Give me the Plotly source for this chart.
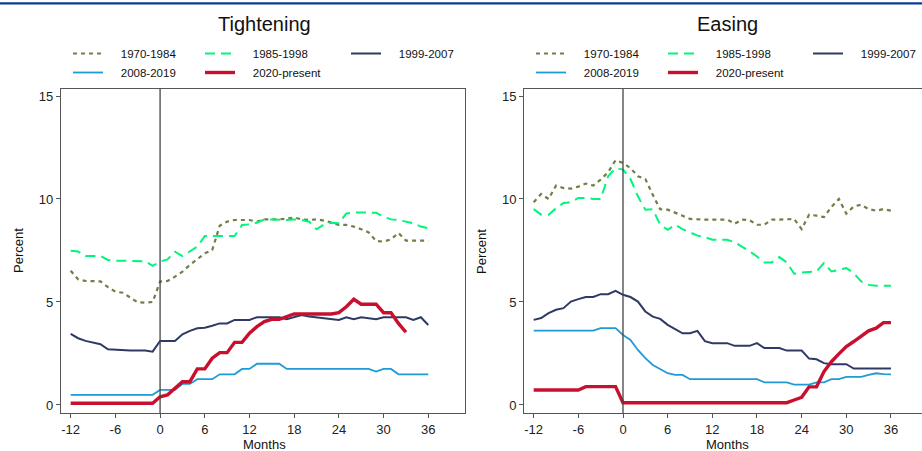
import plotly.graph_objects as go

months = list(range(-12, 37))
series_names = ["1970-1984", "1985-1998", "1999-2007", "2008-2019", "2020-present"]

# ---------------- Tightening ----------------
tight_1970 = [6.52, 6.10, 6.02, 6.00, 6.00, 5.72, 5.50, 5.45, 5.23, 4.98, 4.97, 5.00,
              5.99, 6.02, 6.23, 6.47, 6.80, 7.09, 7.36, 7.52, 8.70, 8.90, 8.98, 8.98,
              8.98, 8.90, 9.01, 9.01, 9.01, 9.05, 9.10, 9.01, 8.98, 9.01, 8.95, 8.85,
              8.74, 8.74, 8.66, 8.53, 8.38, 7.96, 7.93, 8.04, 8.35, 7.98, 7.98, 7.98, 7.98]
tight_1985 = [7.49, 7.45, 7.23, 7.23, 7.23, 7.04, 7.00, 7.00, 7.00, 7.00, 6.98, 6.75,
              6.96, 7.07, 7.44, 7.23, 7.44, 7.69, 8.20, 8.20, 8.20, 8.20, 8.20, 8.74,
              8.77, 8.85, 9.01, 9.01, 8.98, 8.98, 9.01, 8.98, 8.90, 8.53, 8.77, 8.85,
              8.82, 9.30, 9.35, 9.35, 9.35, 9.33, 9.14, 9.01, 8.98, 8.90, 8.82, 8.66, 8.58]
tight_1999 = [3.45, 3.24, 3.11, 3.04, 2.95, 2.70, 2.68, 2.64, 2.64, 2.64, 2.64, 2.59,
              3.11, 3.11, 3.11, 3.43, 3.60, 3.72, 3.75, 3.85, 3.96, 3.96, 4.13, 4.13,
              4.13, 4.26, 4.26, 4.26, 4.26, 4.16, 4.28, 4.37, 4.30, 4.26, 4.22, 4.18,
              4.13, 4.26, 4.16, 4.26, 4.20, 4.16, 4.26, 4.26, 4.26, 4.26, 4.13, 4.26, 3.88]
tight_2008 = [0.49] * 12 + [
              0.73, 0.73, 0.73, 1.02, 1.02, 1.25, 1.25, 1.25, 1.49, 1.49, 1.49, 1.75,
              1.75, 2.00, 2.00, 2.00, 2.00, 1.75, 1.75, 1.75, 1.75, 1.75, 1.75, 1.75,
              1.75, 1.75, 1.75, 1.75, 1.75, 1.62, 1.75, 1.75, 1.49, 1.49, 1.49, 1.49, 1.49]
tight_2020 = [0.08] * 12 + [
              0.40, 0.49, 0.81, 1.13, 1.13, 1.75, 1.75, 2.27, 2.54, 2.54, 3.04, 3.04,
              3.48, 3.80, 4.05, 4.16, 4.16, 4.29, 4.42, 4.42, 4.42, 4.42, 4.42, 4.42,
              4.48, 4.77, 5.13, 4.89, 4.89, 4.89, 4.48, 4.48, 3.96, 3.53]

# ---------------- Easing ----------------
ease_1970 = [9.84, 10.24, 10.00, 10.65, 10.53, 10.50, 10.60, 10.75, 10.65, 10.94, 11.30, 11.88,
             11.75, 11.50, 11.10, 10.97, 10.20, 9.50, 9.48, 9.35, 9.19, 9.03, 9.00, 9.00,
             9.00, 9.00, 9.00, 8.80, 9.00, 8.97, 8.75, 8.75, 9.00, 9.00, 9.00, 9.03,
             8.54, 9.24, 9.19, 9.12, 9.61, 10.00, 9.29, 9.64, 9.72, 9.51, 9.43, 9.51, 9.43]
ease_1985 = [9.51, 9.24, 9.24, 9.55, 9.81, 9.84, 10.05, 10.05, 10.00, 10.00, 11.10, 11.50,
             11.43, 10.97, 10.13, 9.48, 9.50, 8.75, 8.50, 8.75, 8.54, 8.38, 8.22, 8.15,
             8.02, 8.02, 8.02, 7.90, 7.70, 7.46, 7.21, 6.92, 6.92, 7.18, 6.92, 6.37,
             6.43, 6.45, 6.48, 6.89, 6.48, 6.56, 6.65, 6.40, 6.00, 5.83, 5.79, 5.79, 5.79]
ease_1999 = [4.13, 4.22, 4.46, 4.62, 4.70, 5.02, 5.14, 5.24, 5.24, 5.38, 5.38, 5.54,
             5.35, 5.24, 5.02, 4.54, 4.29, 4.18, 3.89, 3.68, 3.48, 3.48, 3.60, 3.10,
             3.00, 3.00, 3.00, 2.87, 2.87, 2.87, 3.00, 2.76, 2.76, 2.76, 2.64, 2.64,
             2.64, 2.25, 2.22, 2.03, 1.98, 1.98, 1.98, 1.77, 1.77, 1.77, 1.77, 1.77, 1.77]
ease_2008 = [3.61] * 9 + [3.73, 3.73, 3.73,
             3.40, 3.16, 2.67, 2.27, 1.94, 1.73, 1.54, 1.46, 1.46, 1.25, 1.25, 1.25,
             1.25, 1.25, 1.25, 1.25, 1.25, 1.25, 1.25, 1.10, 1.10, 1.10, 1.10, 0.99,
             0.99, 0.99, 1.10, 1.10, 1.25, 1.25, 1.36, 1.36, 1.36, 1.46, 1.54, 1.50, 1.49]
ease_2020 = [0.73] * 7 + [0.89] * 5 + [0.11] * 23 + [
             0.24, 0.37, 0.88, 0.88, 1.62, 2.10, 2.48, 2.84, 3.08, 3.35, 3.60, 3.73, 4.00, 4.00]

panel_titles = ["Tightening", "Easing"]
x_ticks = [-12, -6, 0, 6, 12, 18, 24, 30, 36]
x_ticktext = ["-12", "-6", "0", "6", "12", "18", "24", "30", "36"]
y_ticks = [0, 5, 10, 15]

W, H = 922, 451
FONT = "Arial, Liberation Sans, sans-serif"

colors = ["#6e8048", "#00f57a", "#2e3a63", "#1f9bd5", "#c8102e"]
widths = [2.2, 2.0, 2.0, 1.8, 3.4]
dashes = ["4px,4px", "10px,6px", "solid", "solid", "solid"]
PAD = "\u00a0" * 4  # gap between legend key and label

def px_x(p):
    return p / W

def px_y(p):
    return (H - p) / H

fig = go.Figure()

panels = [
    ([tight_1970, tight_1985, tight_1999, tight_2008, tight_2020], "x", "y", ["legend", "legend2", "legend3", "legend", "legend2"]),
    ([ease_1970, ease_1985, ease_1999, ease_2008, ease_2020], "x2", "y2", ["legend4", "legend5", "legend6", "legend4", "legend5"]),
]

for data, xa, ya, legs in panels:
    for i, vals in enumerate(data):
        fig.add_trace(go.Scatter(
            x=months[:len(vals)], y=vals, mode="lines", name=PAD + series_names[i],
            xaxis=xa, yaxis=ya, legend=legs[i],
            line=dict(color=colors[i], width=widths[i], dash=dashes[i]),
            hoverinfo="skip",
        ))

ydom = [px_y(413), px_y(89)]
axis_common = dict(showgrid=False, zeroline=False, showline=True, linecolor="#555555",
                   linewidth=1.3, ticks="outside", ticklen=4, tickcolor="#555555",
                   tickfont=dict(family=FONT, size=13, color="#222222"))

fig.update_layout(
    width=W, height=H, margin=dict(l=0, r=0, t=0, b=0),
    paper_bgcolor="white", plot_bgcolor="white",
    xaxis=dict(domain=[px_x(61), px_x(465)], range=[-13.30, 40.93], tickvals=x_ticks,
               ticktext=x_ticktext, mirror=True, anchor="y", **axis_common),
    yaxis=dict(domain=ydom, range=[-0.39, 15.34], tickvals=y_ticks, mirror=True,
               anchor="x", **axis_common),
    xaxis2=dict(domain=[px_x(524.3), 1.0], range=[-13.26, 40.17], tickvals=x_ticks,
                ticktext=x_ticktext, mirror=True, anchor="y2", **axis_common),
    yaxis2=dict(domain=ydom, range=[-0.39, 15.34], tickvals=y_ticks, mirror=False,
                anchor="x2", **axis_common),
    showlegend=True,
)

leg_common = dict(orientation="v", xanchor="left", yanchor="top", bgcolor="rgba(0,0,0,0)",
                  font=dict(family=FONT, size=11.5, color="#111111"), itemwidth=30,
                  tracegroupgap=0)
leg_x = [68, 200, 346, 531, 663, 808]
for k, name in enumerate(["legend", "legend2", "legend3", "legend4", "legend5", "legend6"]):
    fig.update_layout(**{name: dict(x=px_x(leg_x[k]), y=px_y(39), **leg_common)})

# vertical reference lines at month 0
for xa, ya in [("x", "y"), ("x2", "y2")]:
    fig.add_shape(type="line", xref=xa, yref=ya + " domain", x0=0, x1=0, y0=0, y1=1,
                  line=dict(color="#444444", width=1.3))

# top blue rule
fig.add_shape(type="line", xref="paper", yref="paper", x0=0, x1=1, y0=px_y(3.3), y1=px_y(3.3),
              line=dict(color="#0a3a9a", width=2.2))

annotations = [
    dict(text=panel_titles[0], x=px_x(264), y=px_y(24), font=dict(size=20)),
    dict(text=panel_titles[1], x=px_x(727), y=px_y(24), font=dict(size=20)),
    dict(text="Months", x=px_x(264), y=px_y(444), font=dict(size=13)),
    dict(text="Months", x=px_x(727), y=px_y(444), font=dict(size=13)),
    dict(text="Percent", x=px_x(18), y=px_y(251), font=dict(size=13), textangle=-90),
    dict(text="Percent", x=px_x(481), y=px_y(251), font=dict(size=13), textangle=-90),
]
for a in annotations:
    a["font"].update(family=FONT, color="#111111")
    fig.add_annotation(xref="paper", yref="paper", xanchor="center", yanchor="middle",
                       showarrow=False, **a)

fig.write_html("out.html", config={"displayModeBar": False},
               post_script="document.body.style.margin='0px';document.body.style.overflow='hidden';")
